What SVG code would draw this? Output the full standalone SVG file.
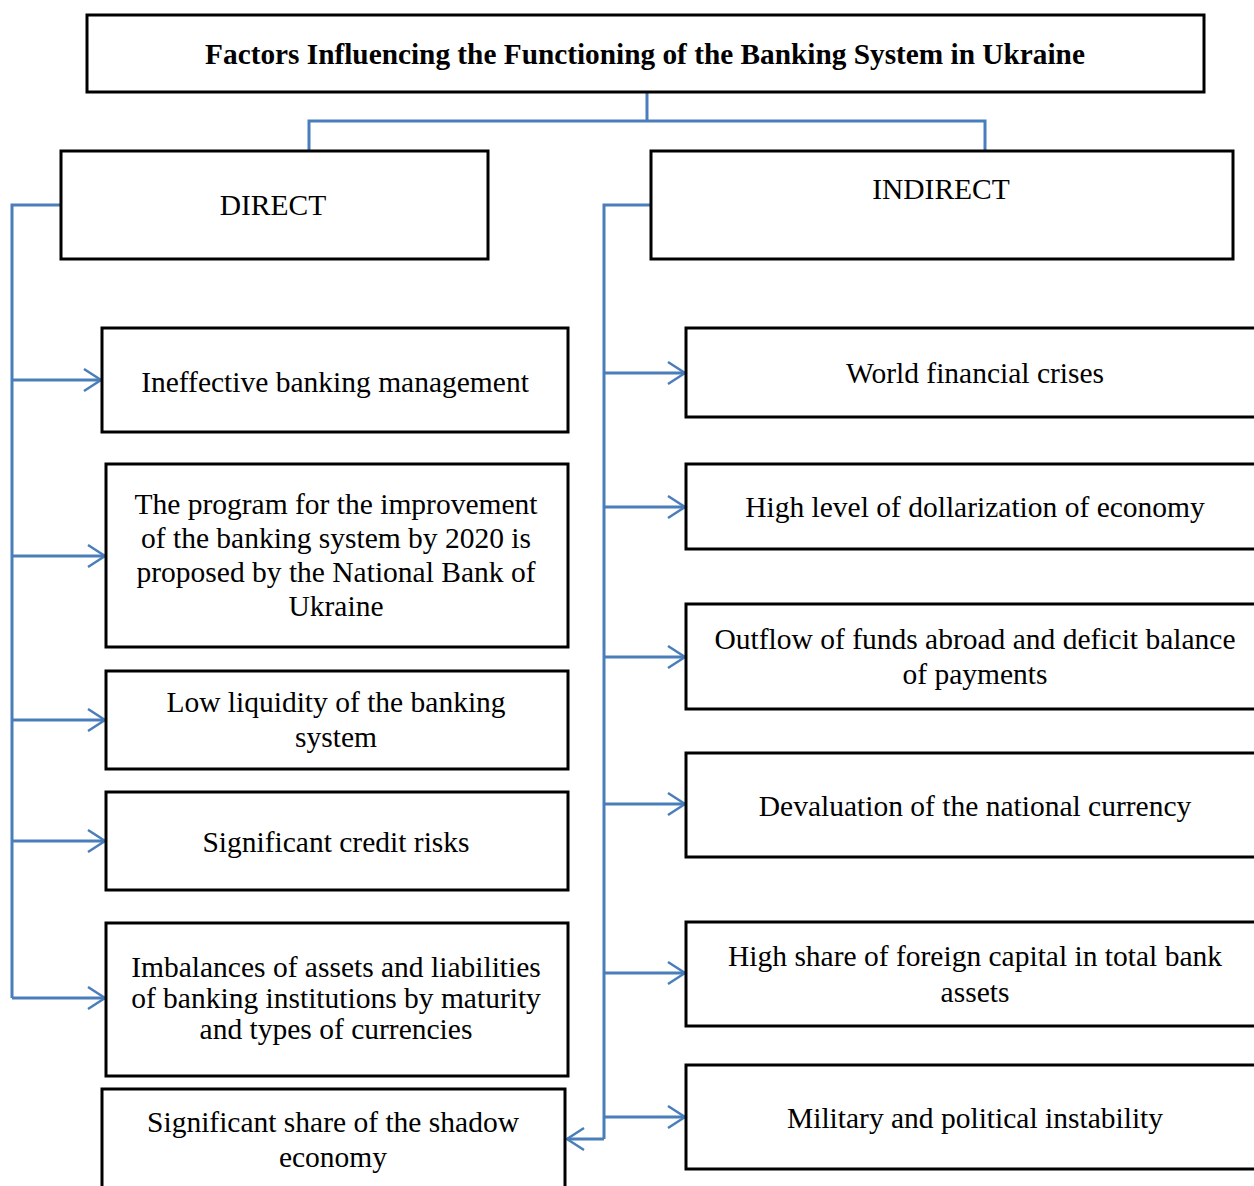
<svg xmlns="http://www.w3.org/2000/svg" width="1254" height="1186" viewBox="0 0 1254 1186">
<style>
.box{fill:#fff;stroke:#000;stroke-width:3}
.t{font-family:"Liberation Serif","Times New Roman",serif;font-size:29.5px;fill:#000;text-anchor:middle}
.title{font-weight:bold;font-size:29.3px}
.c{fill:none;stroke:#4A7EBB;stroke-width:3}
.a{marker-end:url(#arr)}
</style>
<defs>
<marker id="arr" markerUnits="userSpaceOnUse" markerWidth="22" markerHeight="26" refX="19" refY="13" orient="auto">
<path d="M2,2 L19,13 L2,24" fill="none" stroke="#4A7EBB" stroke-width="2.5"/>
</marker>
</defs>
<rect width="1254" height="1186" fill="#fff"/>
<g id="connectors">
<path class="c" d="M647,92 V121 M309,151 V121 H985 V151"/>
<path class="c" d="M61,205 H12 V998"/>
<path class="c a" d="M12,380 H101"/>
<path class="c a" d="M12,556 H105"/>
<path class="c a" d="M12,720 H105"/>
<path class="c a" d="M12,841 H105"/>
<path class="c a" d="M12,998 H105"/>
<path class="c" d="M651,205 H604 V1139"/>
<path class="c a" d="M604,373 H685"/>
<path class="c a" d="M604,507 H685"/>
<path class="c a" d="M604,657 H685"/>
<path class="c a" d="M604,804 H685"/>
<path class="c a" d="M604,973 H685"/>
<path class="c a" d="M604,1117 H685"/>
<path class="c a" d="M604,1139 H567"/>
</g>
<g id="title"><rect class="box" x="87" y="15" width="1117" height="77"/><text class="t title" x="645" y="64">Factors Influencing the Functioning of the Banking System in Ukraine</text></g>
<g id="direct"><rect class="box" x="61" y="151" width="427" height="108"/><text class="t" x="273" y="215">DIRECT</text></g>
<g id="indirect"><rect class="box" x="651" y="151" width="582" height="108"/><text class="t" x="941" y="199">INDIRECT</text></g>
<g id="d1"><rect class="box" x="102" y="328" width="466" height="104"/><text class="t" x="335" y="392">Ineffective banking management</text></g>
<g id="d2"><rect class="box" x="106" y="464" width="462" height="183"/><text class="t" x="336" y="514">The program for the improvement</text><text class="t" x="336" y="548">of the banking system by 2020 is</text><text class="t" x="336" y="582">proposed by the National Bank of</text><text class="t" x="336" y="616">Ukraine</text></g>
<g id="d3"><rect class="box" x="106" y="671" width="462" height="98"/><text class="t" x="336" y="712">Low liquidity of the banking</text><text class="t" x="336" y="747">system</text></g>
<g id="d4"><rect class="box" x="106" y="792" width="462" height="98"/><text class="t" x="336" y="852">Significant credit risks</text></g>
<g id="d5"><rect class="box" x="106" y="923" width="462" height="153"/><text class="t" x="336" y="977">Imbalances of assets and liabilities</text><text class="t" x="336" y="1008">of banking institutions by maturity</text><text class="t" x="336" y="1039">and types of currencies</text></g>
<g id="d6"><rect class="box" x="102" y="1089" width="463" height="120"/><text class="t" x="333" y="1132">Significant share of the shadow</text><text class="t" x="333" y="1167">economy</text></g>
<g id="i1"><rect class="box" x="686" y="328" width="590" height="89"/><text class="t" x="975" y="383">World financial crises</text></g>
<g id="i2"><rect class="box" x="686" y="464" width="590" height="85"/><text class="t" x="975" y="517">High level of dollarization of economy</text></g>
<g id="i3"><rect class="box" x="686" y="604" width="590" height="105"/><text class="t" x="975" y="649">Outflow of funds abroad and deficit balance</text><text class="t" x="975" y="684">of payments</text></g>
<g id="i4"><rect class="box" x="686" y="753" width="590" height="104"/><text class="t" x="975" y="816">Devaluation of the national currency</text></g>
<g id="i5"><rect class="box" x="686" y="922" width="590" height="104"/><text class="t" x="975" y="966">High share of foreign capital in total bank</text><text class="t" x="975" y="1002">assets</text></g>
<g id="i6"><rect class="box" x="686" y="1065" width="590" height="104"/><text class="t" x="975" y="1128">Military and political instability</text></g>
</svg>
